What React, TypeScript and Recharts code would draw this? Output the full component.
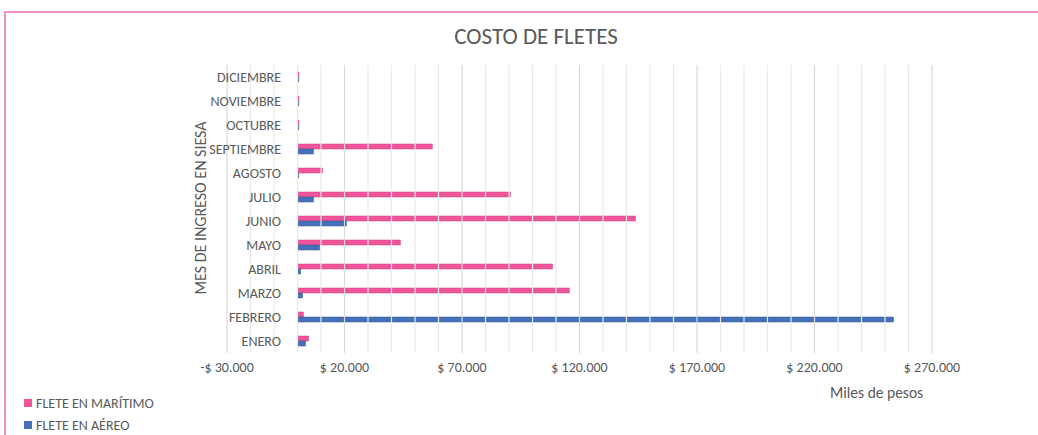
import { BarChart, Bar, XAxis, YAxis, ReferenceLine } from "recharts";

const months = [
    "ENERO", "FEBRERO", "MARZO", "ABRIL", "MAYO", "JUNIO",
    "JULIO", "AGOSTO", "SEPTIEMBRE", "OCTUBRE", "NOVIEMBRE", "DICIEMBRE",
];
const maritimo = [4700, 2500, 115700, 108500, 43800, 143800, 90600, 10600, 57400, 600, 600, 600];
const aereo = [3400, 253600, 2100, 1300, 9400, 20800, 6800, 500, 6800, 500, 500, 500];

const xTicks = [-30000, 20000, 70000, 120000, 170000, 220000, 270000];
const gridLines = [
    -30000, -20000, -10000, 0, 10000, 20000, 30000, 40000, 50000, 60000, 70000,
    80000, 90000, 100000, 110000, 120000, 130000, 140000, 150000, 160000, 170000,
    180000, 190000, 200000, 210000, 220000, 230000, 240000, 250000, 260000, 270000,
];

const PINK = "#f0559c";
const BLUE = "#4471b8";
const TEXT = "#595959";
const FONT = "Carlito, 'Liberation Sans', sans-serif";

const data = months.map((m, i) => ({ mes: m, maritimo: maritimo[i], aereo: aereo[i] }));

function money(v: number) {
    const s = Math.abs(v).toString().replace(/\B(?=(\d{3})+(?!\d))/g, ".");
    return (v < 0 ? "-$ " : "$ ") + s;
}

function MonthTick(props: any) {
    const { x, y, payload } = props;
    return (
        <text x={x + 62} y={y} dy={5} textAnchor="end" fill={TEXT} fontSize={14} fontFamily={FONT}>
            {payload.value}
        </text>
    );
}

const legendItems = [
    { label: "FLETE EN MARÍTIMO", color: PINK },
    { label: "FLETE EN AÉREO", color: BLUE },
];

export default function App() {
    return (
        <div style={{ position: "absolute", left: 0, top: 0, width: 1038, height: 435, overflow: "hidden", background: "#fff" }}>
            <div
                style={{
                    position: "absolute", left: 4, top: 11, width: 1040, height: 430,
                    borderTop: "2px solid #f191c3", borderLeft: "2px solid #f191c3",
                }}
            />
            <div
                style={{
                    position: "absolute", left: 0, width: 1072, top: 22, textAlign: "center",
                    fontFamily: FONT, fontSize: 23, color: TEXT,
                }}
            >
                COSTO DE FLETES
            </div>
            <div
                style={{
                    position: "absolute", left: 830, top: 383, fontFamily: FONT, fontSize: 15.5, color: TEXT,
                }}
            >
                Miles de pesos
            </div>
            <div
                style={{
                    position: "absolute", left: 200, top: 208, transform: "translate(-50%, -50%) rotate(-90deg)",
                    whiteSpace: "nowrap", fontFamily: FONT, fontSize: 16, color: TEXT,
                }}
            >
                MES DE INGRESO EN SIESA
            </div>
            <div style={{ position: "absolute", left: 24, top: 392, fontFamily: FONT, fontSize: 14, color: TEXT }}>
                {legendItems.map((it) => (
                    <div key={it.label} style={{ display: "flex", alignItems: "center", height: 22 }}>
                        <span style={{ width: 8, height: 8, background: it.color, marginRight: 4 }} />
                        {it.label}
                    </div>
                ))}
            </div>
            <div style={{ position: "absolute", left: 0, top: 0 }}>
                <BarChart
                    width={1038}
                    height={435}
                    data={data}
                    layout="vertical"
                    margin={{ top: 65, right: 106, bottom: 52, left: 0 }}
                    barSize={5}
                    barGap={0}
                >
                    {gridLines.map((g) => (
                        <ReferenceLine
                            key={g}
                            x={g}
                            stroke={(g - 20000) % 50000 === 0 ? "#d9d9d9" : "#e9e9e9"}
                            strokeWidth={1.2}
                        />
                    ))}
                    <XAxis
                        type="number"
                        domain={[-30000, 270000]}
                        ticks={xTicks}
                        tickFormatter={money}
                        axisLine={false}
                        tickLine={false}
                        tickMargin={3}
                        tick={{ fill: TEXT, fontSize: 14, fontFamily: FONT }}
                        allowDataOverflow
                    />
                    <YAxis
                        type="category"
                        dataKey="mes"
                        reversed
                        width={227}
                        axisLine={false}
                        tickLine={false}
                        tick={<MonthTick />}
                        interval={0}
                    />
                    <Bar dataKey="maritimo" name="FLETE EN MARÍTIMO" fill={PINK} stroke="#c93c7c" strokeWidth={0.5} isAnimationActive={false} />
                    <Bar dataKey="aereo" name="FLETE EN AÉREO" fill={BLUE} stroke="#2e5590" strokeWidth={0.5} isAnimationActive={false} />
                </BarChart>
            </div>
        </div>
    );
}
